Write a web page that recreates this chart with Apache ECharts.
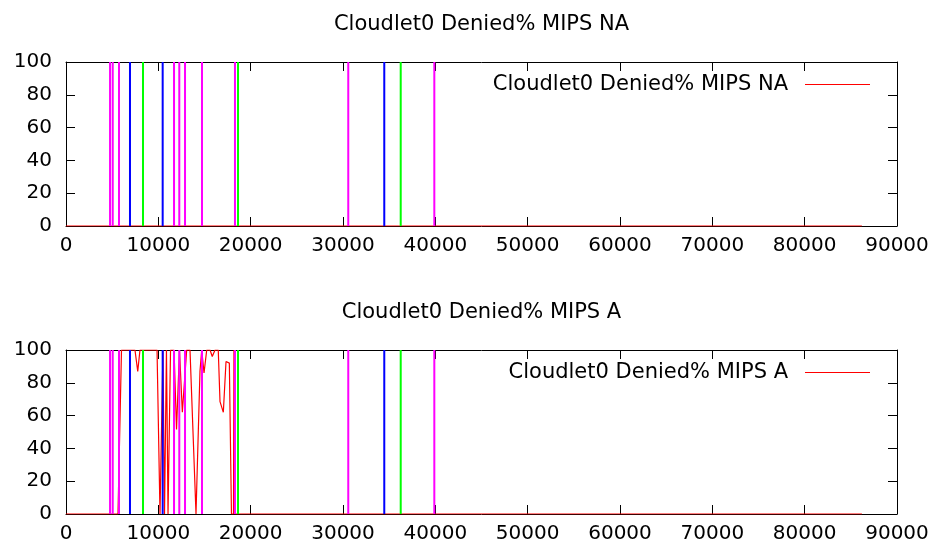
<!DOCTYPE html>
<html>
<head>
<meta charset="utf-8">
<script src="https://cdn.jsdelivr.net/npm/echarts@6/dist/echarts.min.js"></script>
<style>
html,body{margin:0;padding:0;background:#fff;}
#chart{width:940px;height:552px;}
</style>
</head>
<body>
<div id="chart"></div>
<script>
// ---- data ----
const titleNA = 'Cloudlet0 Denied% MIPS NA';
const titleA = 'Cloudlet0 Denied% MIPS A';
const xTicks = [0, 10000, 20000, 30000, 40000, 50000, 60000, 70000, 80000, 90000];
const yTicks = [0, 20, 40, 60, 80, 100];

// Denied% (not aware): flat 0 over the run
const deniedNA = [[0, 0], [86200, 0]];

// Denied% (aware)
const deniedA = [
  [0, 0], [5630, 0], [6010, 100], [7470, 100], [7770, 87], [8010, 100],
  [9860, 100], [10180, 0], [10500, 100], [10670, 0], [10880, 100], [11050, 0],
  [11320, 100], [11700, 100], [11970, 51.5], [12290, 100], [12600, 62],
  [13070, 100], [13430, 100], [14080, 0], [14510, 87], [14700, 100],
  [14950, 86], [15240, 100], [15600, 100], [15840, 96], [16140, 100],
  [16490, 100], [16680, 68.5], [17040, 62], [17330, 93], [17690, 92],
  [17920, 0], [18140, 0], [18190, 100], [18250, 0], [86200, 0]
];

// event markers (vertical lines)
const magentaEvents = [4770, 5060, 5740, 11700, 12270, 12890, 14730, 18300, 30570, 39890];
const blueEvents = [6930, 10470, 34470];
const greenEvents = [8340, 18630, 36250];

// ---- build ----
function verticals(xs) {
  const d = [];
  xs.forEach(function (x) { d.push([x, 0], [x, 100], [x, '-']); });
  return d;
}

const FONT = 'DejaVu Sans';
const FS = 20;
const FS_T = 21;
const grids = [
  { left: 66, right: 43, top: 62, height: 164 },
  { left: 66, right: 43, top: 350, height: 164 }
];

const xAxes = [], yAxes = [];
grids.forEach(function (g, i) {
  const common = {
    gridIndex: i, type: 'value', min: 0, max: 90000, interval: 10000,
    axisLine: { show: true, onZero: false, lineStyle: { color: '#000', width: 1 } },
    axisTick: { show: true, inside: true, length: 9, lineStyle: { color: '#000', width: 1 } },
    splitLine: { show: false }
  };
  xAxes.push(Object.assign({}, common, {
    position: 'bottom',
    axisLabel: { show: true, margin: 10, color: '#000', fontFamily: FONT, fontSize: FS,
      formatter: function (v) { return xTicks.indexOf(v) >= 0 ? String(v) : ''; } }
  }));
  xAxes.push(Object.assign({}, common, { position: 'top', axisLabel: { show: false } }));
  const ycommon = {
    gridIndex: i, type: 'value', min: 0, max: 100, interval: 20,
    axisLine: { show: true, onZero: false, lineStyle: { color: '#000', width: 1 } },
    axisTick: { show: true, inside: true, length: 9, lineStyle: { color: '#000', width: 1 } },
    splitLine: { show: false }
  };
  yAxes.push(Object.assign({}, ycommon, {
    position: 'left',
    axisLabel: { show: true, margin: 14, color: '#000', fontFamily: FONT, fontSize: FS,
      formatter: function (v) { return yTicks.indexOf(v) >= 0 ? String(v) : ''; } }
  }));
  yAxes.push(Object.assign({}, ycommon, { position: 'right', axisLabel: { show: false } }));
});

const series = [];
[[titleNA, deniedNA], [titleA, deniedA]].forEach(function (pair, i) {
  series.push({
    name: pair[0], type: 'line', xAxisIndex: i * 2, yAxisIndex: i * 2,
    data: pair[1], showSymbol: false, symbol: 'none', animation: false,
    lineStyle: { color: '#ff0000', width: 1.2 }, itemStyle: { color: '#ff0000' }, z: 2
  });
  [['m', magentaEvents, '#ff00ff'], ['b', blueEvents, '#0000ff'], ['g', greenEvents, '#00ff00']].forEach(function (ev) {
    series.push({
      name: 'ev_' + ev[0] + i, type: 'line', xAxisIndex: i * 2, yAxisIndex: i * 2,
      data: verticals(ev[1]), showSymbol: false, symbol: 'none', animation: false,
      connectNulls: false,
      lineStyle: { color: ev[2], width: 2 }, itemStyle: { color: ev[2] }, z: 3
    });
  });
});

const legendCommon = {
  right: 70, orient: 'vertical', align: 'right', icon: 'rect', itemWidth: 65, itemHeight: 1,
  padding: 0, selectedMode: false,
  textStyle: { color: '#000', fontFamily: FONT, fontSize: FS_T, padding: [0, 12, 0, 0] }
};

const option = {
  animation: false,
  backgroundColor: '#fff',
  grid: grids,
  xAxis: xAxes,
  yAxis: yAxes,
  series: series,
  legend: [
    Object.assign({}, legendCommon, { top: 74, data: [titleNA] }),
    Object.assign({}, legendCommon, { top: 362, data: [titleA] })
  ],
  graphic: [
    { type: 'text', style: { text: titleNA, x: 481.5, y: 25, align: 'center', verticalAlign: 'middle',
      fill: '#000', font: 'normal ' + FS_T + 'px "' + FONT + '"' } },
    { type: 'text', style: { text: titleA, x: 481.5, y: 313, align: 'center', verticalAlign: 'middle',
      fill: '#000', font: 'normal ' + FS_T + 'px "' + FONT + '"' } }
  ]
};

const chart = echarts.init(document.getElementById('chart'), null, { renderer: 'canvas' });
chart.setOption(option);
</script>
</body>
</html>
